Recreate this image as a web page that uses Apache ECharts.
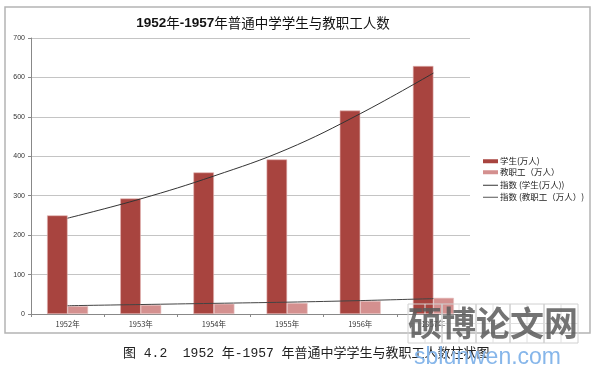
<!DOCTYPE html>
<html>
<head>
<meta charset="utf-8">
<script src="https://cdn.jsdelivr.net/npm/echarts@6/dist/echarts.min.js"></script>
<style>html,body{margin:0;padding:0;background:#fff;}#c{width:597px;height:376px;}</style>
</head>
<body>
<div id="c"></div>
<script>
const categories = ['1952年', '1953年', '1954年', '1955年', '1956年', '1957年'];
const students = [250, 293, 359, 392, 516, 629];
const staff = [20, 23, 26, 28, 33, 41];
const studentsTrend = [243, 292, 350, 418, 508, 611];
const staffTrend = [21, 24, 27, 30, 34, 39];
const seriesNames = ['学生(万人)', '教职工（万人）', '指数 (学生(万人))', '指数 (教职工（万人）)'];
const yMin = 0, yMax = 700, yStep = 100;

const chart = echarts.init(document.getElementById('c'), null, {renderer: 'canvas'});
const cjk = "'Noto Sans CJK SC', sans-serif";
const legendBase = {
  orient: 'vertical', left: 483, itemWidth: 15, itemGap: 0, padding: 0,
  itemStyle: {borderWidth: 0},
  textStyle: {fontSize: 8.5, color: '#222', fontFamily: cjk, padding: [0, 0, 0, -3]}
};
const wmChars = ['硕', '博', '论', '文', '网'];
const wmGraphics = [];
wmChars.forEach((ch, i) => {
  const x0 = 408 + i * 34;
  wmGraphics.push({type: 'rect', shape: {x: x0, y: 304, width: 34, height: 39}, style: {fill: 'none', stroke: '#d0d0d0', lineWidth: 1}, z: 100});
  wmGraphics.push({type: 'line', shape: {x1: x0 + 17, y1: 304, x2: x0 + 17, y2: 343}, style: {stroke: '#e0e0e0', lineWidth: 1}, z: 100});
  wmGraphics.push({type: 'line', shape: {x1: x0, y1: 323.5, x2: x0 + 34, y2: 323.5}, style: {stroke: '#e0e0e0', lineWidth: 1}, z: 100});
  wmGraphics.push({type: 'text', x: x0 + 17, y: 323, style: {text: ch, fill: 'rgba(90,90,90,0.85)', font: "bold 34px 'Noto Sans CJK SC'", textAlign: 'center', textVerticalAlign: 'middle'}, z: 101});
});

chart.setOption({
  animation: false,
  backgroundColor: '#fff',
  title: {
    text: '{b|1952}{n|年}{b|-1957}{n|年普通中学学生与教职工人数}',
    left: 258, top: 11, textAlign: 'center',
    textStyle: {
      rich: {
        b: {fontSize: 13.5, fontWeight: 'bold', color: '#111', fontFamily: "'Liberation Sans', sans-serif"},
        n: {fontSize: 13.5, fontWeight: 'normal', color: '#111', fontFamily: cjk}
      }
    }
  },
  grid: {left: 31, right: 127, top: 38, bottom: 62, containLabel: false},
  legend: [
    Object.assign({}, legendBase, {top: 157, data: [{name: seriesNames[0], icon: 'rect'}], itemHeight: 4}),
    Object.assign({}, legendBase, {top: 168, data: [{name: seriesNames[1], icon: 'rect'}], itemHeight: 4}),
    Object.assign({}, legendBase, {top: 181, data: [{name: seriesNames[2], icon: 'rect'}], itemHeight: 1}),
    Object.assign({}, legendBase, {top: 193, data: [{name: seriesNames[3], icon: 'rect'}], itemHeight: 1})
  ],
  xAxis: {
    type: 'category', data: categories,
    axisLine: {show: true, lineStyle: {color: '#888', width: 1}},
    axisTick: {show: true, alignWithLabel: false, length: 3, lineStyle: {color: '#888'}},
    axisLabel: {fontSize: 7.5, color: '#333', margin: 6, fontFamily: cjk},
    splitLine: {show: false}
  },
  yAxis: {
    type: 'value', min: yMin, max: yMax, interval: yStep,
    axisLine: {show: true, lineStyle: {color: '#888', width: 1}},
    axisTick: {show: true, length: 3, lineStyle: {color: '#888'}},
    axisLabel: {fontSize: 7, color: '#333', margin: 6, fontFamily: "'Liberation Sans', sans-serif"},
    splitLine: {show: true, lineStyle: {color: '#c4c4c4', width: 1}}
  },
  series: [
    {name: seriesNames[0], type: 'bar', data: students, barWidth: 20.5, barGap: '0%',
     itemStyle: {color: '#A8443F', borderColor: '#e2b3b1', borderWidth: 0.6}},
    {name: seriesNames[1], type: 'bar', data: staff, barWidth: 20.5,
     itemStyle: {color: '#D4908F', borderColor: '#e8c4c3', borderWidth: 0.6}},
    {name: seriesNames[2], type: 'line', data: studentsTrend, smooth: 0.4, showSymbol: false, symbol: 'none',
     lineStyle: {color: '#333', width: 1}, itemStyle: {color: '#333'}, z: 5},
    {name: seriesNames[3], type: 'line', data: staffTrend, smooth: 0.4, showSymbol: false, symbol: 'none',
     lineStyle: {color: '#444', width: 1}, itemStyle: {color: '#555'}, z: 5}
  ],
  graphic: [
    {type: 'rect', shape: {x: 5, y: 7, width: 585, height: 326}, style: {fill: 'none', stroke: '#b4b4b4', lineWidth: 1.5}, z: 0},
    {type: 'text', left: 123, top: 347, style: {text: '图 4.2  1952 年-1957 年普通中学学生与教职工人数柱状图', fill: '#222', font: "13px 'Liberation Mono', 'Noto Sans CJK SC'"}, z: 50},
    {type: 'text', left: 414, top: 346, style: {text: 'sblunwen.com', fill: '#86b6ea', font: "23px 'Liberation Sans', sans-serif"}, z: 102}
  ].concat(wmGraphics)
});
</script>
</body>
</html>
